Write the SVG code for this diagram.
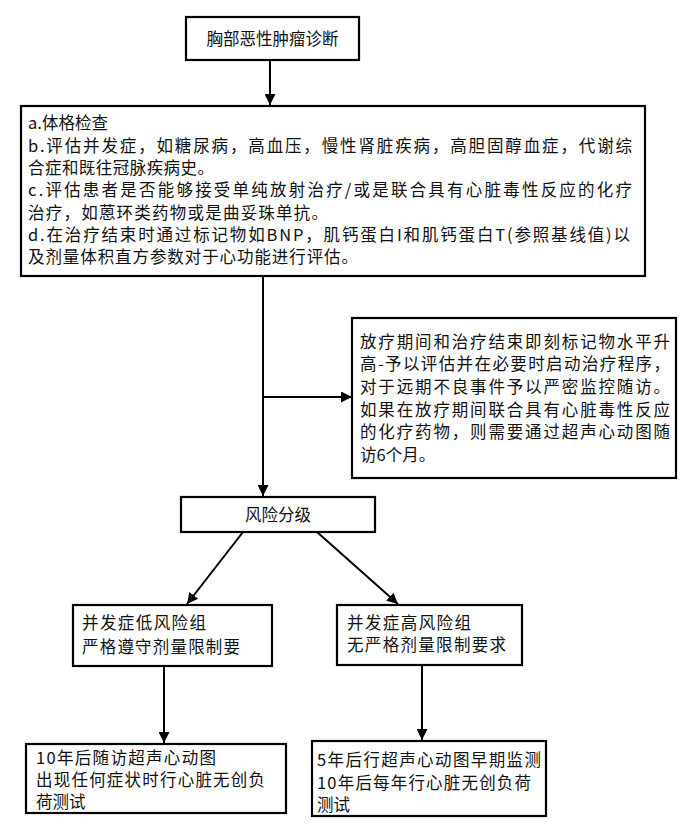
<svg xmlns="http://www.w3.org/2000/svg" width="700" height="840" viewBox="0 0 700 840">
<defs>
<marker id="ah" viewBox="0 0 10 10" refX="10" refY="5" markerWidth="11" markerHeight="11" markerUnits="userSpaceOnUse" orient="auto">
<path d="M0,0 L10,5 L0,10 z" fill="#000"/>
</marker>
<style>
.box{fill:#fff;stroke:#000;stroke-width:2.2}
.t{font-family:"Noto Sans CJK SC","Liberation Serif",sans-serif;font-size:16.5px;fill:#111}
.c{text-anchor:middle}
.ln{stroke:#000;stroke-width:2;fill:none}
</style>
</defs>
<rect width="700" height="840" fill="#fff"/>
<g id="connectors">
<line class="ln" x1="270" y1="60" x2="270" y2="105" marker-end="url(#ah)"/>
<line class="ln" x1="263" y1="276" x2="263" y2="496" marker-end="url(#ah)"/>
<line class="ln" x1="263" y1="397" x2="352" y2="397" marker-end="url(#ah)"/>
<line class="ln" x1="243" y1="532" x2="187" y2="604" marker-end="url(#ah)"/>
<line class="ln" x1="317" y1="532" x2="398" y2="604" marker-end="url(#ah)"/>
<line class="ln" x1="164" y1="666" x2="164" y2="743" marker-end="url(#ah)"/>
<line class="ln" x1="422" y1="665" x2="422" y2="740" marker-end="url(#ah)"/>
</g>
<g id="n1">
<rect class="box" x="186" y="17" width="173" height="43"/>
<text class="t c" x="272.5" y="45" font-size="18">胸部恶性肿瘤诊断</text>
</g>
<g id="n2">
<rect class="box" x="21" y="106" width="624" height="170"/>
<text class="t" x="28" y="129">a.体格检查</text>
<text class="t" x="28" y="152" textLength="604" lengthAdjust="spacing">b.评估并发症，如糖尿病，高血压，慢性肾脏疾病，高胆固醇血症，代谢综</text>
<text class="t" x="28" y="174" textLength="186" lengthAdjust="spacing">合症和既往冠脉疾病史。</text>
<text class="t" x="28" y="196" textLength="604" lengthAdjust="spacing">c.评估患者是否能够接受单纯放射治疗/或是联合具有心脏毒性反应的化疗</text>
<text class="t" x="28" y="219" textLength="300" lengthAdjust="spacing">治疗，如蒽环类药物或是曲妥珠单抗。</text>
<text class="t" x="28" y="241" textLength="602" lengthAdjust="spacing">d.在治疗结束时通过标记物如BNP，肌钙蛋白I和肌钙蛋白T(参照基线值)以</text>
<text class="t" x="28" y="263" textLength="330" lengthAdjust="spacing">及剂量体积直方参数对于心功能进行评估。</text>
</g>
<g id="n3">
<rect class="box" x="352" y="318" width="324" height="160"/>
<text class="t" x="360" y="348" textLength="310" lengthAdjust="spacing">放疗期间和治疗结束即刻标记物水平升</text>
<text class="t" x="360" y="370" textLength="310" lengthAdjust="spacing">高-予以评估并在必要时启动治疗程序，</text>
<text class="t" x="360" y="393" textLength="310" lengthAdjust="spacing">对于远期不良事件予以严密监控随访。</text>
<text class="t" x="360" y="416" textLength="310" lengthAdjust="spacing">如果在放疗期间联合具有心脏毒性反应</text>
<text class="t" x="360" y="438" textLength="310" lengthAdjust="spacing">的化疗药物，则需要通过超声心动图随</text>
<text class="t" x="360" y="461">访6个月。</text>
</g>
<g id="n4">
<rect class="box" x="181" y="497" width="194" height="35"/>
<text class="t c" x="278" y="521" font-size="17.5">风险分级</text>
</g>
<g id="n5">
<rect class="box" x="73" y="605" width="199" height="61"/>
<text class="t" x="82" y="629" textLength="124" lengthAdjust="spacing">并发症低风险组</text>
<text class="t" x="82" y="653" textLength="158" lengthAdjust="spacing">严格遵守剂量限制要</text>
</g>
<g id="n6">
<rect class="box" x="337" y="605" width="185" height="60"/>
<text class="t" x="347" y="629" textLength="124" lengthAdjust="spacing">并发症高风险组</text>
<text class="t" x="347" y="651" textLength="159" lengthAdjust="spacing">无严格剂量限制要求</text>
</g>
<g id="n7">
<rect class="box" x="26" y="744" width="260" height="69"/>
<text class="t" x="36" y="764" textLength="180" lengthAdjust="spacing">10年后随访超声心动图</text>
<text class="t" x="36" y="786" textLength="229" lengthAdjust="spacing">出现任何症状时行心脏无创负</text>
<text class="t" x="36" y="808">荷测试</text>
</g>
<g id="n8">
<rect class="box" x="312" y="741" width="234" height="75"/>
<text class="t" x="317" y="766" textLength="224" lengthAdjust="spacing">5年后行超声心动图早期监测</text>
<text class="t" x="317" y="789" textLength="214" lengthAdjust="spacing">10年后每年行心脏无创负荷</text>
<text class="t" x="317" y="811">测试</text>
</g>
</svg>
